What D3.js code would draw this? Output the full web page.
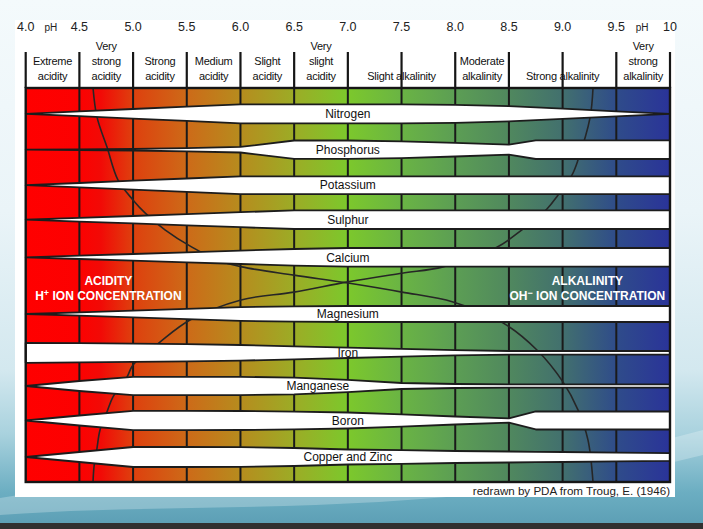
<!DOCTYPE html>
<html>
<head>
<meta charset="utf-8">
<script src="https://cdn.jsdelivr.net/npm/d3@7"></script>
<style>
body { margin: 0; background: #fff; }
svg { display: block; font-family: "Liberation Sans", Arial, sans-serif; }
</style>
</head>
<body>
<script>
var width = 703;
var height = 529;

// pH axis
var tickValues = [4, 4.5, 5, 5.5, 6, 6.5, 7, 7.5, 8, 8.5, 9, 9.5, 10];
var tickLabels = ["4.0", "4.5", "5.0", "5.5", "6.0", "6.5", "7.0", "7.5", "8.0", "8.5", "9.0", "9.5", "10"];

// reaction classes in the header
var zoneStart = [4, 4.5, 5, 5.5, 6, 6.5, 7, 8, 8.5, 9.5];
var zoneEnd = [4.5, 5, 5.5, 6, 6.5, 7, 8, 8.5, 9.5, 10];
var zoneLabels = [
    ["Extreme", "acidity"], ["Very", "strong", "acidity"], ["Strong", "acidity"],
    ["Medium", "acidity"], ["Slight", "acidity"], ["Very", "slight", "acidity"],
    ["Slight alkalinity"], ["Moderate", "alkalinity"], ["Strong alkalinity"],
    ["Very", "strong", "alkalinity"]
];

// nutrient availability (relative band half-width) at these pH values
var phGrid = [4.0, 4.5, 5.0, 5.5, 6.0, 6.5, 7.0, 7.5, 8.0, 8.5, 8.75, 9.0, 9.5, 10.0];
var nutrients = ["Nitrogen", "Phosphorus", "Potassium", "Sulphur", "Calcium",
                 "Magnesium", "Iron", "Manganese", "Boron", "Copper and Zinc"];
var nitrogen   = [0, .24, .48, .71, .95, .95, .95, .95, .90, .76, .64, .51, .25, 0];
var phosphorus = [0, .03, .08, .16, .28, .92, .92, .84, .68, .50, .93, .93, .93, .93];
var potassium  = [0, .22, .45, .67, .89, .89, .89, .89, .89, .89, .89, .89, .89, .89];
var sulphur    = [0, .19, .37, .56, .75, .93, .93, .93, .93, .93, .93, .93, .93, .93];
var calcium    = [0, .17, .33, .50, .67, .83, .93, .93, .93, .93, .93, .93, .93, .93];
var magnesium  = [0, .17, .34, .52, .69, .77, .80, .80, .80, .80, .80, .80, .80, .80];
var iron       = [1.0, .96, .91, .86, .78, .65, .52, .39, .26, .18, .18, .18, .18, .18];
var manganese  = [0, .50, .92, .92, .92, .83, .62, .30, .20, .17, .17, .17, .17, .17];
var boron      = [0, .50, .97, .96, .95, .88, .80, .62, .40, .22, .90, .90, .90, .90];
var copperZinc = [0, .50, 1.0, 1.0, .98, .90, .75, .68, .60, .55, .52, .50, .44, .38];
var availability = [nitrogen, phosphorus, potassium, sulphur, calcium,
                    magnesium, iron, manganese, boron, copperZinc];

// H+ and OH- concentration curves: [pH, depth 0..1]
var hCurve = [[4.627, 0], [4.664, .074], [4.757, .150], [4.860, .234], [4.999, .284],
              [5.111, .317], [5.297, .360], [5.548, .404], [5.791, .437], [6.014, .454],
              [6.498, .475], [7.001, .495], [7.504, .518], [7.979, .543], [8.444, .596],
              [8.761, .665], [9.003, .746], [9.143, .817], [9.236, .893], [9.283, 1]];
var ohCurve = [[9.283, 0], [9.255, .076], [9.143, .183], [9.087, .221], [8.956, .272],
               [8.854, .307], [8.621, .360], [8.388, .404], [7.886, .454], [7.504, .470],
               [7.001, .492], [6.498, .518], [6.005, .538], [5.530, .589], [5.250, .645],
               [4.999, .703], [4.943, .734], [4.813, .784], [4.757, .822], [4.692, .868],
               [4.664, .914], [4.636, .962], [4.627, 1]];

var colourStops = [[4.0, "#ff0000"], [4.5, "#fc0101"], [4.7, "#f20a06"], [5.0, "#de400e"],
                   [5.5, "#cd6a18"], [6.0, "#b68c1e"], [6.5, "#9cac26"], [7.0, "#7cc82c"],
                   [7.5, "#6ab444"], [8.0, "#5c9e54"], [8.5, "#50885e"], [9.0, "#42706e"],
                   [9.5, "#2f4c8a"], [10.0, "#2a3399"]];

// layout
var rowCentre = [.0655, .1566, .2467, .3343, .4297, .5736, .6721, .7563, .8439, .9365];
var labelPh = [7, 7, 7, 7, 7, 7, 7, 6.72, 7, 7];

var x = d3.scaleLinear().domain([4, 10]).range([25.7, 670]);
var y = d3.scaleLinear().domain([0, 1]).range([88, 482]);
var hw = d3.scaleLinear().domain([0, 1]).range([0, 10]);

var svg = d3.select("body").append("svg")
    .attr("width", width)
    .attr("height", height);

var defs = svg.append("defs");
var bg = defs.append("linearGradient").attr("id", "bg")
    .attr("x1", 0).attr("y1", 0).attr("x2", 0).attr("y2", 1);
[[0, "#f4fafc"], [0.4, "#eaf4f8"], [0.7, "#d3e8ef"], [0.82, "#a9d2de"], [0.93, "#6caec2"], [1, "#5a9db3"]]
    .forEach(function(s) { bg.append("stop").attr("offset", s[0]).attr("stop-color", s[1]); });

var grad = defs.append("linearGradient").attr("id", "ph")
    .attr("gradientUnits", "userSpaceOnUse")
    .attr("x1", x(4)).attr("x2", x(10)).attr("y1", 0).attr("y2", 0);
colourStops.forEach(function(s) {
    grad.append("stop").attr("offset", (s[0] - 4) / 6).attr("stop-color", s[1]);
});

// slide background
svg.append("rect").attr("width", width).attr("height", height).attr("fill", "url(#bg)");
svg.append("path")
    .attr("d", "M0,498 C180,470 430,505 703,430 L703,455 C440,522 200,500 0,515 Z")
    .attr("fill", "#ffffff").attr("opacity", 0.25);
svg.append("rect").attr("x", 15).attr("y", 20).attr("width", 660).attr("height", 477)
    .attr("fill", "#ffffff");
svg.append("rect").attr("x", 0).attr("y", 523).attr("width", width).attr("height", 6)
    .attr("fill", "#303030");

// coloured field
svg.append("rect")
    .attr("x", x(4)).attr("y", y(0))
    .attr("width", x(10) - x(4)).attr("height", y(1) - y(0))
    .attr("fill", "url(#ph)");

svg.selectAll(".grid")
    .data(tickValues.slice(1, -1))
    .enter().append("line")
    .attr("class", "grid")
    .attr("x1", function(d) { return x(d); })
    .attr("x2", function(d) { return x(d); })
    .attr("y1", y(0)).attr("y2", y(1))
    .attr("stroke", "#1a1a1a").attr("stroke-width", 2);

var curveLine = d3.line()
    .x(function(d) { return x(d[0]); })
    .y(function(d) { return y(d[1]); })
    .curve(d3.curveCatmullRom.alpha(0.5));

svg.selectAll(".ion")
    .data([hCurve, ohCurve])
    .enter().append("path")
    .attr("class", "ion")
    .attr("d", curveLine)
    .attr("fill", "none")
    .attr("stroke", "#262626")
    .attr("stroke-width", 1.6);

// nutrient bands
svg.selectAll(".band")
    .data(availability)
    .enter().append("path")
    .attr("class", "band")
    .attr("d", function(vals, i) {
        var c = y(rowCentre[i]);
        return d3.area()
            .x(function(d, j) { return x(phGrid[j]); })
            .y0(function(d) { return c - hw(d); })
            .y1(function(d) { return c + hw(d); })(vals);
    })
    .attr("fill", "#ffffff")
    .attr("stroke", "#1c1c1c")
    .attr("stroke-width", 1.8)
    .attr("stroke-linejoin", "round");

svg.selectAll(".nlabel")
    .data(nutrients)
    .enter().append("text")
    .attr("class", "nlabel")
    .attr("x", function(d, i) { return x(labelPh[i]); })
    .attr("y", function(d, i) { return y(rowCentre[i]) + 4.3; })
    .attr("text-anchor", "middle")
    .attr("font-size", 12)
    .attr("fill", "#111")
    .text(function(d) { return d; });

// border
svg.append("rect")
    .attr("x", x(4)).attr("y", y(0))
    .attr("width", x(10) - x(4)).attr("height", y(1) - y(0))
    .attr("fill", "none").attr("stroke", "#161616").attr("stroke-width", 2.4);

// header
svg.selectAll(".htick")
    .data(tickValues)
    .enter().append("line")
    .attr("class", "htick")
    .attr("x1", function(d) { return x(d); })
    .attr("x2", function(d) { return x(d); })
    .attr("y1", 52).attr("y2", y(0))
    .attr("stroke", "#161616").attr("stroke-width", 2.2);

svg.selectAll(".tlabel")
    .data(tickLabels)
    .enter().append("text")
    .attr("class", "tlabel")
    .attr("x", function(d, i) { return x(tickValues[i]); })
    .attr("y", 31)
    .attr("text-anchor", "middle")
    .attr("font-size", 12.5)
    .attr("fill", "#222")
    .text(function(d) { return d; });

svg.selectAll(".phword")
    .data([4.235, 9.74])
    .enter().append("text")
    .attr("class", "phword")
    .attr("x", function(d) { return x(d); })
    .attr("y", 30.5)
    .attr("text-anchor", "middle")
    .attr("font-size", 10)
    .attr("fill", "#222")
    .text("pH");

var zone = svg.selectAll(".zone")
    .data(zoneLabels)
    .enter().append("text")
    .attr("class", "zone")
    .attr("text-anchor", "middle")
    .attr("font-size", 11)
    .attr("letter-spacing", -0.25)
    .attr("fill", "#111");
zone.selectAll("tspan")
    .data(function(d, i) {
        return d.map(function(t, k) {
            return { t: t, cx: x((zoneStart[i] + zoneEnd[i]) / 2), yy: 80 - (d.length - 1 - k) * 15 };
        });
    })
    .enter().append("tspan")
    .attr("x", function(d) { return d.cx; })
    .attr("y", function(d) { return d.yy; })
    .text(function(d) { return d.t; });

// acidity / alkalinity captions
function caption(cx, top, ion, sup) {
    var g = svg.append("g")
        .attr("fill", "#ffffff")
        .attr("font-weight", "bold")
        .attr("font-size", 12)
        .attr("text-anchor", "middle");
    g.append("text").attr("x", cx).attr("y", 285).text(top);
    var t = g.append("text").attr("x", cx).attr("y", 300);
    t.append("tspan").text(ion);
    t.append("tspan").attr("dy", -4.5).attr("font-size", 9).text(sup);
    t.append("tspan").attr("dy", 4.5).text(" ION CONCENTRATION");
}
caption(x(4.77), "ACIDITY", "H", "+");
caption(x(9.23), "ALKALINITY", "OH", "\u2212");

svg.append("text")
    .attr("x", 670).attr("y", 494.5)
    .attr("text-anchor", "end")
    .attr("font-size", 11.6)
    .attr("fill", "#222")
    .text("redrawn by PDA from Troug, E. (1946)");
</script>
</body>
</html>
